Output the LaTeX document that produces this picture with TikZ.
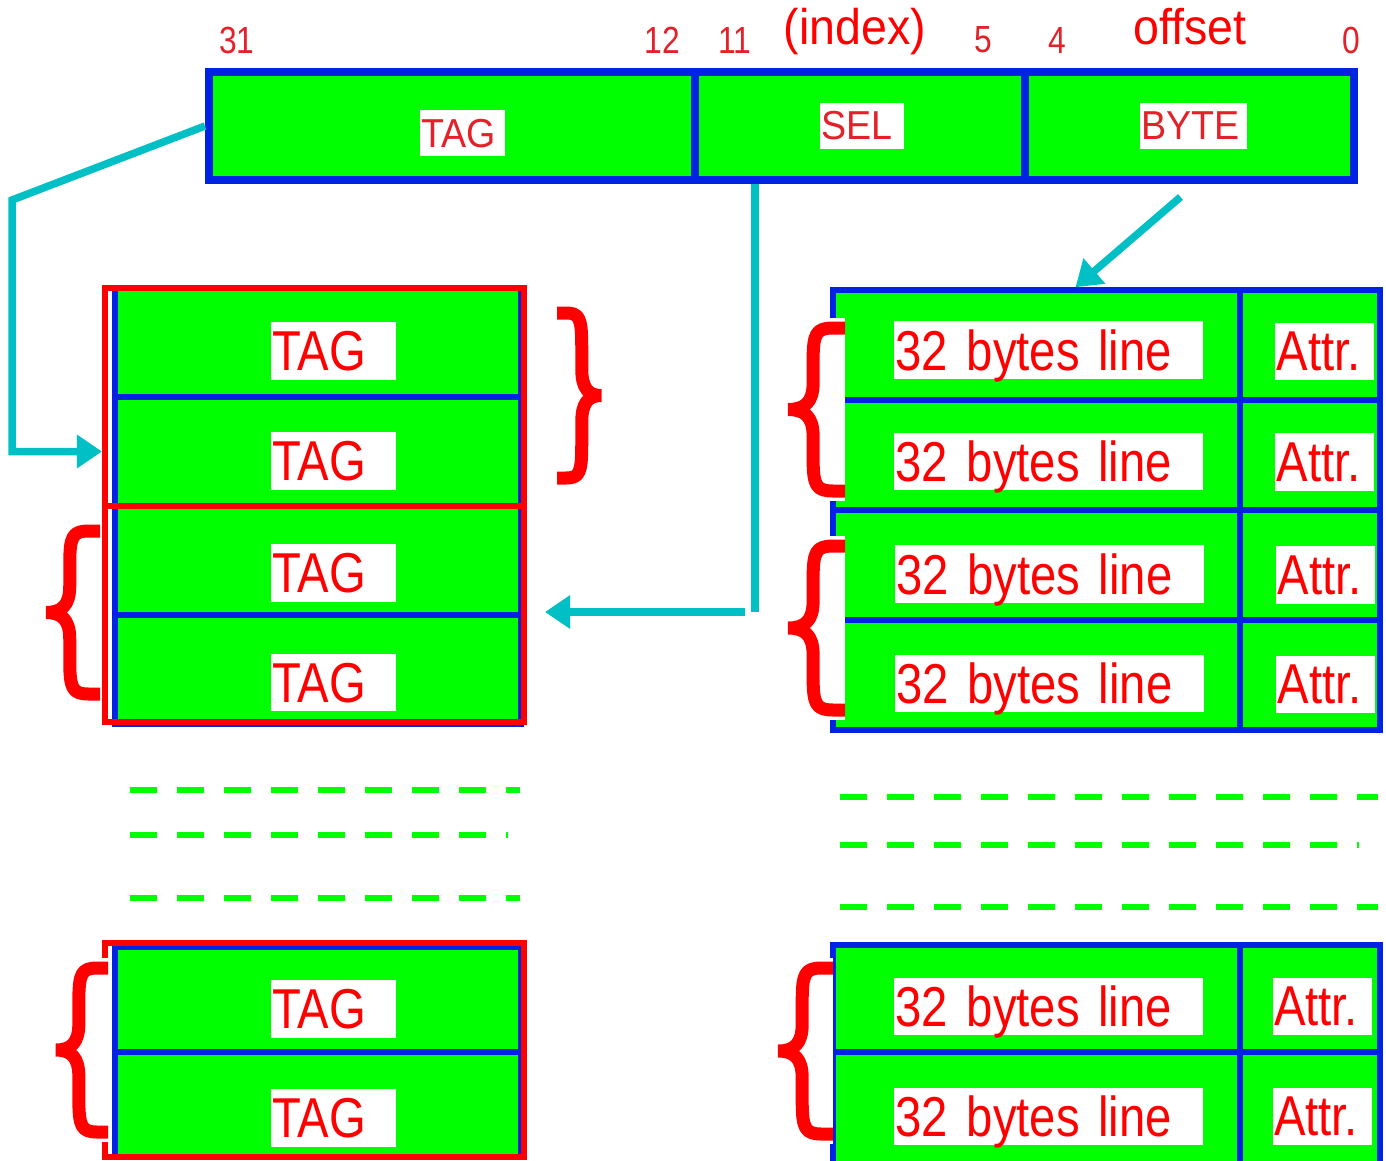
\documentclass[tikz,border=0pt]{standalone}
\usepackage{fontspec}
\setmainfont[FakeStretch=0.84]{Liberation Sans}
\newfontfamily\headfont[FakeStretch=0.93]{Liberation Sans}
\usetikzlibrary{arrows.meta}
\definecolor{cellblue}{RGB}{0,34,226}
\definecolor{cellgreen}{RGB}{0,255,0}
\definecolor{linkcyan}{RGB}{0,192,198}
\definecolor{numred}{RGB}{228,32,40}

% brace: open end x, top y, bottom y, width (negative = opens to the left)
\newcommand{\setbrace}[4]{%
  \pgfmathsetmacro\braceT{#2+6}
  \pgfmathsetmacro\braceB{#3-6}
  \pgfmathsetmacro\braceM{(#2+#3)/2}
  \pgfmathsetmacro\braceH{#3-#2}
  \pgfmathsetmacro\braceS{#1-0.55*(#4)}
  \pgfmathsetmacro\braceP{#1-0.98*(#4)}
  \fill[white] ({#1-0.3*(#4)},{#2-4}) rectangle (#1,{#3+4});
  \draw[bracestroke]
    (#1,\braceT) -- ({#1-0.2*(#4)},\braceT)
    .. controls ({#1-0.5*(#4)},\braceT) and (\braceS,{\braceT+0.03*\braceH}) .. (\braceS,{\braceT+0.19*\braceH})
    -- (\braceS,{\braceM-0.15*\braceH})
    .. controls (\braceS,{\braceM-0.04*\braceH}) and ({\braceS-0.15*(#4)},\braceM) .. (\braceP,\braceM)
    .. controls ({\braceS-0.15*(#4)},\braceM) and (\braceS,{\braceM+0.04*\braceH}) .. (\braceS,{\braceM+0.15*\braceH})
    -- (\braceS,{\braceB-0.19*\braceH})
    .. controls (\braceS,{\braceB-0.03*\braceH}) and ({#1-0.5*(#4)},\braceB) .. ({#1-0.2*(#4)},\braceB)
    -- (#1,\braceB);
}
% big cell labels, with tighter word spaces
\newcommand{\namefont}{\fontsize{32}{36}\selectfont\fontdimen2\font=0.17em\relax}

\begin{document}
\begin{tikzpicture}[x=0.2mm, y=-0.2mm, >={Triangle[length=5mm,width=6.4mm]},
    fieldbox/.style={draw=cellblue, fill=cellgreen, line width=1.6mm, inner sep=0pt, minimum height=21.6mm},
    linecell/.style={draw=cellblue, fill=cellgreen, line width=1.1mm, inner sep=0pt},
    tagcell/.style={linecell, minimum width=81.2mm, minimum height=21.8mm},
    datacell/.style={linecell, minimum width=81.4mm, minimum height=22mm},
    attrcell/.style={linecell, minimum width=28mm, minimum height=22mm},
    setbox/.style={draw=red, line width=1.2mm, inner sep=0pt, minimum width=83.8mm},
    namebox/.style={fill=white, text=red, align=left, inner xsep=0.3mm, inner ysep=0pt,
      text depth=0pt, minimum height=11.5mm, font=\namefont},
    fieldname/.style={fill=white, text=numred, align=left, inner xsep=0.3mm, inner ysep=0pt,
      text depth=0pt, minimum height=9.2mm, font=\headfont\fontsize{23}{26}\selectfont},
    bitno/.style={text=numred, inner sep=0pt, font=\fontsize{21.5}{24}\selectfont},
    head/.style={text=red, inner sep=0pt, font=\headfont\fontsize{28.5}{32}\selectfont},
    link/.style={draw=linkcyan, line width=1.5mm},
    gapline/.style={draw=cellgreen, line width=1.2mm, dash pattern=on 5.4mm off 4mm},
    bracestroke/.style={draw=red, line width=2.6mm, line join=bevel}]
    \useasboundingbox (0,0) rectangle (1386,1160);

    % address fields
    \node[fieldbox, minimum width=97.2mm] (tagf) at (452,126) {};
    \node[fieldbox, minimum width=66mm] (self) at (860,126) {};
    \node[fieldbox, minimum width=65.8mm] (bytef) at (1189.5,126) {};
    \node[fieldname, text width=16.4mm] (tagn) at (462.5,133) {TAG};
    \node[fieldname, text width=16.2mm] (seln) at (862,125.5) {SEL};
    \node[fieldname, text width=20.8mm] (byten) at (1193.5,125.5) {BYTE};

    % bit numbers
    \node[bitno] (b31) at (237,40) {31};
    \node[bitno] (b12) at (662,40) {12};
    \node[bitno] (b11) at (735,40) {11};
    \node[bitno] (b5) at (983,40) {5};
    \node[bitno] (b4) at (1057,40) {4};
    \node[bitno] (b0) at (1351,40) {0};
    \node[head] (idx) at (855,32) {(index)};
    \node[head] (ofs) at (1190,27) {offset};

    % tag array
    \node[tagcell] (l0) at (318,342.5) {};
    \node[tagcell] (l1) at (318,451.5) {};
    \node[tagcell] (l2) at (318,560.5) {};
    \node[tagcell] (l3) at (318,669.5) {};
    \node[setbox, minimum height=43.6mm] (set0) at (314.5,397) {};
    \node[setbox, minimum height=43.2mm] (set1) at (314.5,614) {};
    \node[tagcell, minimum height=21mm] (l4) at (318,999.5) {};
    \node[tagcell, minimum height=21mm] (l5) at (318,1104.5) {};
    \node[setbox, minimum height=42.8mm] (set2) at (314.5,1050) {};

    % data array
    \node[datacell] (r0) at (1036.5,345) {};
    \node[datacell] (r1) at (1036.5,455) {};
    \node[datacell] (r2) at (1036.5,565) {};
    \node[datacell] (r3) at (1036.5,675) {};
    \node[attrcell] (a0) at (1310,345) {};
    \node[attrcell] (a1) at (1310,455) {};
    \node[attrcell] (a2) at (1310,565) {};
    \node[attrcell] (a3) at (1310,675) {};
    \node[datacell, minimum height=21.4mm] (r4) at (1036.5,998.5) {};
    \node[datacell, minimum height=22.6mm] (r5) at (1036.5,1108.5) {};
    \node[attrcell, minimum height=21.4mm] (a4) at (1310,998.5) {};
    \node[attrcell, minimum height=22.6mm] (a5) at (1310,1108.5) {};

    % more sets
    \draw[gapline] (130,790) -- (520,790);
    \draw[gapline] (130,835) -- (508,835);
    \draw[gapline] (130,898) -- (520,898);
    \draw[gapline] (840,797) -- (1378,797);
    \draw[gapline] (840,845) -- (1359,845);
    \draw[gapline] (840,907) -- (1378,907);

    % braces
    \setbrace{557}{307}{484}{-45}
    \setbrace{100}{525}{700}{55}
    \setbrace{108}{962}{1138}{53}
    \setbrace{845}{322}{497}{58}
    \setbrace{845}{540}{716}{58}
    \setbrace{833}{962}{1140}{56}

    % labels
    \node[namebox, text width=24.4mm] (t0) at (333.5,351) {TAG};
    \node[namebox, text width=24.4mm] (t1) at (333.5,461) {TAG};
    \node[namebox, text width=24.4mm] (t2) at (333.5,573) {TAG};
    \node[namebox, text width=24.4mm] (t3) at (333.5,682.5) {TAG};
    \node[namebox, text width=24.4mm] (t4) at (333.5,1009) {TAG};
    \node[namebox, text width=24.4mm] (t5) at (333.5,1118) {TAG};
    \node[namebox, text width=61.2mm] (d0) at (1048.5,350) {32 bytes line};
    \node[namebox, text width=61.2mm] (d1) at (1048.5,461.5) {32 bytes line};
    \node[namebox, text width=61.2mm] (d2) at (1049,574) {32 bytes line};
    \node[namebox, text width=61.2mm] (d3) at (1049,683.5) {32 bytes line};
    \node[namebox, text width=61.2mm] (d4) at (1048.5,1006.5) {32 bytes line};
    \node[namebox, text width=61.2mm] (d5) at (1048.5,1116.5) {32 bytes line};
    \node[namebox, text width=19.2mm] (x0) at (1324.5,351.5) {Attr.};
    \node[namebox, text width=19.2mm] (x1) at (1324.5,462) {Attr.};
    \node[namebox, text width=19.2mm] (x2) at (1325.5,575) {Attr.};
    \node[namebox, text width=19.2mm] (x3) at (1325.5,684.5) {Attr.};
    \node[namebox, text width=19.2mm] (x4) at (1322,1006.5) {Attr.};
    \node[namebox, text width=19.2mm] (x5) at (1322,1116.5) {Attr.};

    % connectors
    \draw[link, ->] (tagf.west) -- (12,200) |- (l1 -| set0.west);
    \draw[link] ([xshift=-21mm]self.south) -- ++(0,428) coordinate (turn);
    \draw[link, ->, shorten >=3.6mm] ([xshift=-2mm]turn) -- (turn -| set1.east);
    \draw[link, ->] ([shift={(-9,13)}]bytef.south) -- ([xshift=7.8mm]r0.north);
\end{tikzpicture}
\end{document}
